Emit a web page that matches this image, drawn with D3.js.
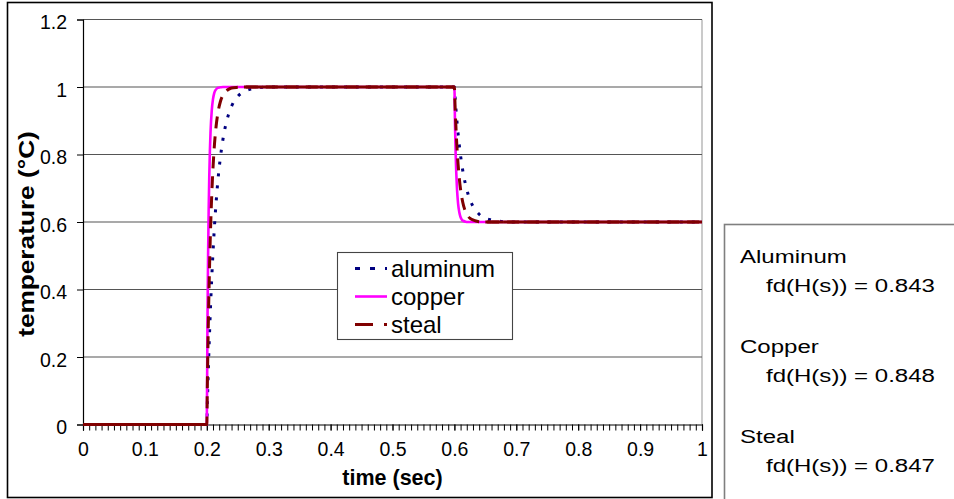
<!DOCTYPE html>
<html>
<head>
<meta charset="utf-8">
<script src="https://cdn.jsdelivr.net/npm/d3@7"></script>
<style>
  html, body { margin: 0; padding: 0; background: #fff; }
  svg { display: block; font-family: "Liberation Sans", Arial, Helvetica, sans-serif; }
</style>
</head>
<body>
<svg id="chart" width="954" height="499"></svg>
<script>
// Sample times (s): a pulse that steps up at 0.2 s and down to 0.6 at 0.6 s
const time = [0,
  0.2, 0.201, 0.202, 0.203, 0.204, 0.205, 0.206, 0.208, 0.21, 0.212, 0.215,
  0.218, 0.222, 0.226, 0.23, 0.235, 0.24, 0.25, 0.26, 0.28, 0.3,
  0.6, 0.601, 0.602, 0.603, 0.604, 0.605, 0.606, 0.608, 0.61, 0.612, 0.615,
  0.618, 0.622, 0.626, 0.63, 0.635, 0.64, 0.65, 0.66, 0.68, 0.7,
  1];

// Temperature response of each material (°C)
const aluminum = [0,
  0, .069, .133, .193, .249, .300, .349, .435, .510, .576, .657,
  .724, .792, .844, .883, .918, .943, .972, .986, .997, 1,
  1, .972, .947, .923, .901, .880, .861, .826, .796, .770, .737,
  .711, .683, .662, .647, .633, .623, .611, .606, .601, .6,
  .6];
const copper = [0,
  0, .283, .487, .632, .736, .811, .865, .930, .964, .982, .993,
  .998, .999, 1, 1, 1, 1, 1, 1, 1, 1,
  1, .887, .805, .747, .705, .676, .654, .628, .614, .607, .603,
  .601, .6, .6, .6, .6, .6, .6, .6, .6, .6,
  .6];
const steal = [0,
  0, .133, .249, .349, .435, .510, .576, .681, .760, .820, .883,
  .924, .957, .976, .986, .993, .997, .999, 1, 1, 1,
  1, .947, .901, .861, .826, .796, .770, .728, .696, .672, .647,
  .631, .617, .610, .606, .603, .601, .6, .6, .6, .6,
  .6];

const seriesNames = ["aluminum", "copper", "steal"];
const xTicks = [0, 0.1, 0.2, 0.3, 0.4, 0.5, 0.6, 0.7, 0.8, 0.9, 1];
const yTicks = [0, 0.2, 0.4, 0.6, 0.8, 1, 1.2];
const noteLines = [
  ["Aluminum", "fd(H(s)) = 0.843"],
  ["Copper", "fd(H(s)) = 0.848"],
  ["Steal", "fd(H(s)) = 0.847"]
];

const styles = {
  aluminum: { color: "#000080", width: 3, dash: "3,9", legendDash: "5,10" },
  copper:   { color: "#ff00ff", width: 2.6, dash: null, legendDash: null },
  steal:    { color: "#800000", width: 3, dash: "12,8", legendDash: "18,11" }
};
const values = { aluminum, copper, steal };

const svg = d3.select("#chart");

const x = d3.scaleLinear().domain([0, 1]).range([83, 702]);
const y = d3.scaleLinear().domain([0, 1.2]).range([424.5, 19.5]);

// Outer chart frame
svg.append("rect")
  .attr("x", 7.5).attr("y", 2.5).attr("width", 704.5).attr("height", 495)
  .attr("fill", "#fff").attr("stroke", "#000").attr("stroke-width", 1.6);

// Plot area right border
svg.append("line")
  .attr("x1", x(1)).attr("x2", x(1)).attr("y1", y(1.2)).attr("y2", y(0))
  .attr("stroke", "#bdbdbd").attr("stroke-width", 1.6);

// Horizontal gridlines
svg.append("g").selectAll("line")
  .data(yTicks.filter(d => d > 0))
  .join("line")
  .attr("x1", x(0)).attr("x2", x(1))
  .attr("y1", d => y(d)).attr("y2", d => y(d))
  .attr("stroke", "#555").attr("stroke-width", 1.1);

// Y axis
const yAxis = svg.append("g")
  .attr("transform", `translate(${x(0)},0)`)
  .call(d3.axisLeft(y).tickValues(yTicks).tickSize(6).tickPadding(10)
    .tickFormat(d3.format("~g")));
yAxis.select(".domain").attr("stroke", "#000").attr("stroke-width", 1.2);
yAxis.selectAll(".tick line").attr("stroke", "#000");
yAxis.selectAll(".tick text")
  .attr("font-family", "Liberation Sans, Arial, sans-serif")
  .attr("font-size", 19.5).attr("fill", "#000")
  .attr("x", -16).attr("dy", 9);

// X axis: minor ticks every 0.01, labels every 0.1
const minor = d3.range(0, 101).map(i => i / 100);
const xMinor = svg.append("g")
  .attr("transform", `translate(0,${y(0)})`)
  .call(d3.axisBottom(x).tickValues(minor).tickSize(6).tickFormat(""));
xMinor.selectAll(".tick line").attr("stroke", "#000");
xMinor.select(".domain").remove();

const xAxis = svg.append("g")
  .attr("transform", `translate(0,${y(0)})`)
  .call(d3.axisBottom(x).tickValues(xTicks).tickSize(6).tickPadding(0)
    .tickFormat(d3.format("~g")));
xAxis.select(".domain").attr("stroke", "#000").attr("stroke-width", 1.2);
xAxis.selectAll(".tick line").attr("stroke", "#000");
xAxis.selectAll(".tick text")
  .attr("font-family", "Liberation Sans, Arial, sans-serif")
  .attr("font-size", 19.5).attr("fill", "#000")
  .attr("y", 31.5).attr("dy", 0);

// Axis titles
svg.append("text")
  .attr("x", (x(0) + x(1)) / 2).attr("y", 485)
  .attr("text-anchor", "middle").attr("font-weight", "bold").attr("font-size", 21.5)
  .text("time (sec)");
svg.append("text")
  .attr("transform", `translate(34,${(y(0) + y(1.2)) / 2 + 12}) rotate(-90) scale(1.22,1)`)
  .attr("text-anchor", "middle").attr("font-weight", "bold").attr("font-size", 21.5)
  .text("temperature (°C)");

// Series lines
const line = d3.line()
  .x((d, i) => x(time[i]))
  .y(d => y(d))
  .curve(d3.curveMonotoneX);

const plot = svg.append("g");
seriesNames.forEach(name => {
  const s = styles[name];
  plot.append("path")
    .datum(values[name])
    .attr("d", line)
    .attr("fill", "none")
    .attr("stroke", s.color)
    .attr("stroke-width", s.width)
    .attr("stroke-dasharray", s.dash)
    .attr("stroke-linejoin", "round");
});

// Flat stretches of the steel trace are drawn solid
steal.forEach((v, i) => {
  if (i < steal.length - 1 && steal[i + 1] === v) {
    plot.append("line")
      .attr("x1", x(time[i])).attr("x2", x(time[i + 1]))
      .attr("y1", y(v)).attr("y2", y(v))
      .attr("stroke", styles.steal.color)
      .attr("stroke-width", styles.steal.width);
  }
});

// Legend
const legend = svg.append("g");
legend.append("rect")
  .attr("x", 337.5).attr("y", 252.5).attr("width", 175).attr("height", 87)
  .attr("fill", "#fff").attr("stroke", "#444").attr("stroke-width", 1.1);
const rowY = [268.5, 296.5, 324.5];
seriesNames.forEach((name, i) => {
  const s = styles[name];
  legend.append("line")
    .attr("x1", 355).attr("x2", 387)
    .attr("y1", rowY[i]).attr("y2", rowY[i])
    .attr("stroke", s.color).attr("stroke-width", s.width)
    .attr("stroke-dasharray", s.legendDash);
  legend.append("text")
    .attr("x", 391).attr("y", rowY[i] + 8.5)
    .attr("font-size", 24).attr("fill", "#000")
    .text(name);
});

// Side note box with fd(H(s)) values
svg.append("rect")
  .attr("x", 724.5).attr("y", 224.5).attr("width", 300).attr("height", 300)
  .attr("fill", "#fff").attr("stroke", "#7f7f7f").attr("stroke-width", 1.6);
const noteBase = [[263, 292], [353, 382], [443, 472]];
const sx = 1.265;
noteLines.forEach((pair, i) => {
  const g = svg.append("g").attr("transform", `translate(740,0) scale(${sx},1)`);
  g.append("text").attr("x", 0).attr("y", noteBase[i][0])
    .attr("font-size", 19).attr("fill", "#000").text(pair[0]);
  g.append("text").attr("x", (766 - 740) / sx).attr("y", noteBase[i][1])
    .attr("font-size", 19).attr("fill", "#000").text(pair[1]);
});
</script>
</body>
</html>
